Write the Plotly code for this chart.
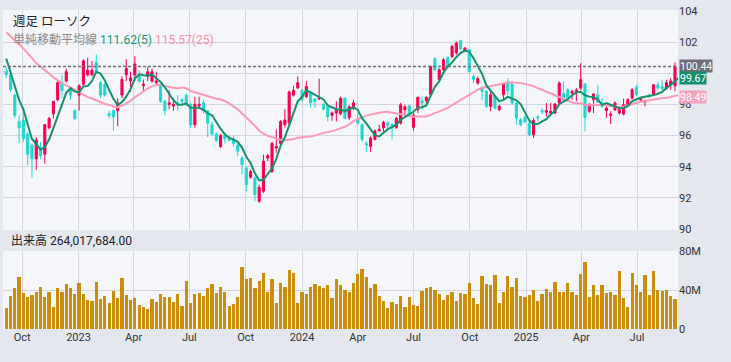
import pandas as pd
import plotly.graph_objects as go

# ---------------- data ----------------
start_date = "2022-09-05"
n_weeks = 158
dates = pd.date_range(start_date, periods=n_weeks, freq="7D")

opens = [100.16, 99.9, 98.6, 96.9, 97.0, 96.1, 95.4, 94.5, 95.2, 94.8,
         96.5, 97.4, 98.3, 99.4, 99.5, 98.9, 97.6, 98.6, 99.3, 99.9,
         99.9, 100.7, 99.4, 99.3, 97.4, 97.6, 97.6, 98.6, 99.9, 99.5,
         99.9, 99.9, 99.2, 99.8, 99.5, 99.4, 99.2, 98.2, 98.0, 97.9,
         98.1, 98.3, 98.6, 98.0, 96.7, 97.9, 98.1, 97.6, 96.7, 96.1,
         95.3, 96.0, 95.8, 95.8, 95.4, 94.56, 93.92, 93.32, 93.28, 91.79,
         92.43, 94.56, 93.7, 95.2, 95.5, 96.7, 96.8, 98.6, 99.05, 98.9,
         98.5, 98.7, 98.35, 98.35, 98.0, 97.8, 97.3, 97.45, 97.4, 98.4,
         97.15, 97.75, 97.1, 96.7, 95.5, 95.3, 95.75, 96.3, 96.5, 96.8,
         96.7, 96.5, 96.8, 97.65, 97.9, 96.53, 97.66, 98.24, 98.24, 98.62,
         100.93, 99.59, 100.23, 101.02, 101.08, 101.3, 102.09, 101.4, 101.51, 99.8,
         99.37, 99.09, 98.84, 97.88, 98.52, 97.66, 98.62, 99.44, 99.31, 98.09,
         97.02, 97.17, 96.8, 96.06, 97.21, 97.6, 97.51, 97.45, 97.45, 98.09,
         98.7, 98.94, 98.73, 98.84, 99.05, 99.31, 97.56, 98.3, 98.62, 98.09,
         97.6, 97.3, 97.66, 97.45, 97.38, 97.94, 98.41, 99.09, 98.3, 98.15,
         98.62, 98.62, 99.26, 99.14, 99.05, 99.26, 99.2, 100.38]
highs = [100.4, 100.1, 98.7, 97.3, 97.6, 96.2, 95.5, 95.9, 95.6, 96.7,
         97.2, 98.2, 99.5, 99.9, 100.3, 99.1, 97.7, 99.3, 100.9, 101.0,
         100.8, 101.2, 99.5, 99.4, 97.6, 97.7, 98.4, 99.8, 100.9, 100.1,
         101.1, 100.2, 99.6, 100.4, 100.3, 100.1, 99.3, 98.3, 98.9, 98.4,
         98.6, 98.4, 98.7, 98.1, 98.5, 98.5, 98.3, 97.6, 96.9, 96.2,
         96.1, 96.2, 96.0, 96.0, 95.5, 94.7, 94.03, 93.82, 93.39, 92.85,
         94.78, 94.82, 95.6, 96.4, 97.0, 97.7, 98.9, 99.2, 99.8, 99.0,
         99.5, 98.85, 98.4, 99.65, 98.1, 97.9, 97.55, 98.2, 98.5, 98.45,
         97.95, 98.3, 97.45, 96.8, 95.65, 95.95, 96.4, 96.7, 96.95, 96.95,
         96.8, 97.2, 98.1, 97.98, 98.0, 97.45, 98.52, 98.52, 98.52, 100.5,
         101.02, 100.33, 100.97, 101.08, 101.83, 102.04, 102.15, 101.68, 101.57, 99.91,
         99.8, 99.16, 98.94, 98.84, 98.62, 97.98, 99.37, 99.69, 99.37, 98.2,
         97.13, 97.3, 96.91, 97.13, 97.34, 97.77, 98.09, 98.09, 98.09, 99.48,
         99.48, 99.05, 98.94, 99.05, 100.65, 99.37, 98.09, 98.73, 99.26, 98.41,
         97.88, 97.56, 98.2, 97.77, 98.37, 98.41, 99.05, 99.26, 98.45, 98.3,
         98.67, 99.31, 99.48, 99.59, 99.59, 99.69, 100.7, 100.5]
lows = [99.7, 98.8, 97.1, 95.5, 95.6, 94.1, 93.3, 93.8, 94.5, 94.2,
        96.4, 97.1, 98.2, 98.4, 99.4, 98.3, 97.0, 97.6, 99.2, 99.8,
        99.8, 100.0, 98.4, 98.5, 97.1, 96.3, 96.6, 98.4, 99.5, 98.8,
        99.5, 99.4, 98.8, 99.5, 99.4, 99.3, 98.1, 97.3, 97.7, 97.6,
        97.6, 98.0, 97.9, 96.5, 96.5, 97.8, 97.4, 95.9, 96.0, 95.6,
        95.2, 95.5, 95.6, 95.3, 94.7, 93.5, 92.43, 93.24, 91.79, 91.68,
        92.32, 94.35, 93.6, 94.9, 95.4, 96.5, 96.7, 98.5, 99.0, 98.2,
        98.4, 97.8, 97.8, 98.3, 97.6, 96.9, 96.95, 96.9, 97.3, 97.05,
        97.0, 97.65, 96.7, 95.6, 94.95, 94.95, 95.7, 96.25, 96.25, 96.5,
        95.75, 96.45, 96.7, 97.35, 97.3, 96.32, 97.45, 97.66, 98.09, 98.52,
        100.12, 99.48, 100.12, 100.33, 100.97, 101.19, 101.5, 101.36, 100.01, 99.37,
        99.26, 98.3, 97.77, 97.56, 97.66, 97.56, 98.3, 98.6, 97.98, 96.7,
        96.59, 96.8, 95.95, 95.85, 96.91, 97.38, 97.23, 97.3, 97.38, 98.03,
        98.2, 98.3, 98.3, 98.2, 98.94, 96.27, 97.45, 97.45, 98.09, 97.77,
        97.13, 96.74, 97.56, 97.34, 97.3, 97.88, 98.3, 98.52, 98.15, 97.88,
        98.41, 98.58, 98.94, 98.94, 98.94, 98.94, 98.85, 100.35]
closes = [99.9, 98.95, 97.3, 96.5, 95.8, 94.8, 94.5, 95.7, 94.7, 96.7,
          97.1, 98.2, 99.4, 98.9, 100.1, 98.6, 97.1, 99.2, 100.8, 100.2,
          100.2, 100.1, 98.6, 98.6, 97.3, 97.2, 98.1, 99.6, 100.3, 99.7,
          100.6, 99.5, 99.3, 100.1, 100.1, 99.5, 98.2, 97.6, 98.1, 98.0,
          98.0, 98.2, 98.0, 96.7, 98.0, 98.0, 97.6, 96.8, 96.1, 95.7,
          96.0, 95.8, 95.7, 95.5, 95.0, 94.14, 92.85, 93.7, 92.21, 92.68,
          94.35, 94.71, 95.5, 95.3, 96.9, 97.0, 98.8, 98.9, 99.4, 98.3,
          99.15, 98.1, 98.2, 98.45, 97.7, 97.2, 97.45, 97.65, 98.4, 97.1,
          97.85, 98.1, 96.8, 95.75, 95.4, 95.85, 96.3, 96.4, 96.85, 96.65,
          96.5, 97.1, 97.98, 97.85, 97.4, 97.3, 98.45, 98.09, 98.45, 100.44,
          100.23, 100.23, 100.87, 100.44, 101.72, 101.94, 101.57, 101.62, 100.12, 99.59,
          99.65, 98.84, 97.88, 98.62, 97.77, 97.88, 99.31, 98.9, 98.09, 97.13,
          96.7, 96.87, 96.06, 96.96, 97.13, 97.51, 97.6, 97.56, 98.03, 99.37,
          98.3, 98.41, 98.84, 98.92, 99.59, 97.17, 97.98, 98.67, 98.15, 97.88,
          97.77, 97.38, 98.09, 97.66, 97.98, 98.3, 98.94, 98.62, 98.37, 98.24,
          98.5, 99.26, 99.05, 99.0, 99.4, 99.5, 100.45, 100.44]
# closes of the 24 weeks before the first candle (read back from the averages at the left edge)
prior_closes = [104.95, 104.3, 102.75, 103.05, 101.8, 102.75, 103.7, 99.95,
                101.95, 103.35, 104.2, 104.15, 103.4, 103.6, 101.85, 100.85,
                102.95, 105.05, 104.2, 102.45, 103.35, 101.6, 101.1, 98.8]

volume_m = [21.9, 34.2, 42.4, 53.4, 36.9, 33.2, 34.9, 38.0, 43.1, 32.8,
            38.0, 22.6, 42.1, 38.3, 46.2, 42.1, 35.9, 47.2, 35.9, 29.8,
            28.7, 48.2, 30.8, 33.9, 26.7, 39.0, 31.8, 52.3, 34.9, 29.8,
            31.8, 24.6, 22.6, 20.5, 30.8, 27.7, 35.9, 32.8, 32.8, 27.7,
            35.9, 23.6, 49.2, 26.7, 35.9, 36.9, 33.9, 42.1, 46.2, 36.9,
            43.1, 38.0, 23.6, 25.7, 32.8, 63.6, 51.3, 52.3, 42.1, 49.2,
            57.5, 38.0, 51.3, 26.7, 47.2, 43.1, 60.5, 57.5, 26.7, 38.0,
            35.9, 43.1, 46.2, 44.1, 42.1, 45.1, 31.8, 51.3, 45.1, 40.0,
            38.0, 47.2, 56.4, 61.6, 53.4, 42.1, 46.2, 33.9, 28.7, 21.5,
            27.7, 25.7, 33.9, 22.6, 32.8, 24.6, 23.6, 39.0, 42.1, 43.1,
            40.0, 35.9, 29.8, 34.9, 38.0, 28.7, 36.9, 35.9, 47.2, 31.8,
            25.7, 54.4, 46.2, 45.1, 55.4, 26.7, 38.0, 54.4, 43.1, 52.3,
            33.9, 32.8, 34.9, 40.0, 28.7, 35.9, 41.0, 38.0, 48.2, 38.0,
            38.0, 47.2, 38.0, 34.9, 56.4, 68.7, 32.8, 45.1, 34.9, 45.1,
            36.9, 38.0, 34.9, 59.5, 31.8, 22.6, 57.5, 45.1, 38.0, 55.4,
            34.9, 59.5, 40.0, 39.0, 40.0, 33.9, 30.8, 7.2]

price_ticks = [90, 92, 94, 96, 98, 100, 102, 104]
price_tick_text = ["90", "92", "94", "96", "98", "", "102", "104"]  # 100 sits under the value tags
volume_ticks_m = [0, 40, 80]
volume_tick_text = ["0", "40M", "80M"]
x_tick_dates = ["2022-10-01", "2023-01-01", "2023-04-01", "2023-07-01", "2023-10-01",
                "2024-01-01", "2024-04-01", "2024-07-01", "2024-10-01", "2025-01-01",
                "2025-04-01", "2025-07-01"]
x_tick_text = ["Oct", "2023", "Apr", "Jul", "Oct", "2024", "Apr", "Jul", "Oct", "2025", "Apr", "Jul"]

last_price = 100.44
sma5_label = 99.67
sma25_label = 98.49
header_main = "週足 ローソク"
header_sma = "単純移動平均線"
sma5_text = "111.62(5)"
sma25_text = "115.57(25)"
volume_header = "出来高 264,017,684.00"

# ---------------- styling ----------------
PAPER = "#e4e7ee"
PLOT = "#f5f6f9"
GRID = "#d4d5e1"
RED = "#f5004f"
CYAN = "#1fd8d0"
GREEN = "#17906e"
PINK = "#f99bb6"
GOLD = "#c98f0a"
TXT = "#333333"
FONT = "Roboto, 'Noto Sans CJK JP', sans-serif"

W, H = 731, 362
def px_x(p):
    return p / W
def px_y(p):
    return 1 - p / H

all_closes = pd.Series(prior_closes + closes)
sma5 = all_closes.rolling(5).mean().iloc[len(prior_closes):].tolist()
sma25 = all_closes.rolling(25).mean().iloc[len(prior_closes):].tolist()
volume = [v * 1e6 for v in volume_m]

fig = go.Figure()
fig.add_trace(go.Candlestick(
    x=dates, open=opens, high=highs, low=lows, close=closes,
    increasing=dict(line=dict(color=RED, width=1), fillcolor=RED),
    decreasing=dict(line=dict(color=CYAN, width=1), fillcolor=CYAN),
    whiskerwidth=0, xaxis="x", yaxis="y", showlegend=False, hoverinfo="skip"))
fig.add_trace(go.Scatter(x=dates, y=sma25, mode="lines", line=dict(color=PINK, width=2),
                         xaxis="x", yaxis="y", showlegend=False, hoverinfo="skip"))
fig.add_trace(go.Scatter(x=dates, y=sma5, mode="lines", line=dict(color=GREEN, width=2),
                         xaxis="x", yaxis="y", showlegend=False, hoverinfo="skip"))
fig.add_trace(go.Bar(x=dates, y=volume, marker=dict(color=GOLD, line=dict(width=0)),
                     width=5.3 * 86400000, xaxis="x2", yaxis="y2", showlegend=False,
                     hoverinfo="skip"))

x_range = ["2022-08-30 17:00", "2025-09-05 22:00"]
x_dom = [px_x(3), px_x(678)]
axis_common = dict(range=x_range, type="date", tickvals=x_tick_dates, showgrid=True,
                   gridcolor=GRID, gridwidth=1, zeroline=False, showline=False,
                   ticks="", fixedrange=True)

fig.update_layout(
    width=W, height=H,
    margin=dict(l=0, r=0, t=0, b=0),
    paper_bgcolor=PAPER, plot_bgcolor=PLOT,
    font=dict(family=FONT, size=11, color=TXT),
    bargap=0,
    xaxis=dict(domain=x_dom, anchor="y", showticklabels=False,
               rangeslider=dict(visible=False), **axis_common),
    xaxis2=dict(domain=x_dom, anchor="y2", ticktext=x_tick_text, showticklabels=True,
                tickfont=dict(size=11, color=TXT), **axis_common),
    yaxis=dict(domain=[px_y(230), px_y(10)], range=[89.936, 104.064], side="right",
               tickvals=price_ticks, ticktext=price_tick_text, showgrid=True, gridcolor=GRID,
               zeroline=False, showline=False, ticks="", tickfont=dict(size=11, color=TXT),
               automargin=False, fixedrange=True),
    yaxis2=dict(domain=[px_y(329), px_y(251)], range=[0, 80e6], side="right",
                tickvals=[v * 1e6 for v in volume_ticks_m], ticktext=volume_tick_text,
                showgrid=True, gridcolor=GRID, zeroline=False, showline=False, ticks="",
                tickfont=dict(size=11, color=TXT), automargin=False, fixedrange=True),
)

fig.add_shape(type="line", xref="paper", yref="y", x0=x_dom[0], x1=x_dom[1],
              y0=last_price, y1=last_price, line=dict(color="#6f6f78", width=1.5, dash="3px,2px"))

# right-side value labels
for val, bg in [(last_price, "#6e6e78"), (sma5_label, "#14906c"), (sma25_label, "#f7a1bb")]:
    fig.add_annotation(x=px_x(679), xref="paper", y=val, yref="y", xanchor="left",
                       yanchor="middle", text=f"{val:.2f}", showarrow=False,
                       bgcolor=bg, borderpad=0, height=12,
                       font=dict(size=10.5, color="white", family=FONT))

fig.add_annotation(x=px_x(11), y=px_y(22), xref="paper", yref="paper", xanchor="left",
                   yanchor="middle", showarrow=False, text=header_main,
                   font=dict(size=12.5, color="#222222", family=FONT))
fig.add_annotation(x=px_x(11), y=px_y(40), xref="paper", yref="paper", xanchor="left",
                   yanchor="middle", showarrow=False,
                   text=(f"<span style='color:#8a8a8a'>{header_sma}</span> "
                         f"<span style='color:#16987a'>{sma5_text}</span> "
                         f"<span style='color:#f58fb0'>{sma25_text}</span>"),
                   font=dict(size=12, family=FONT))
fig.add_annotation(x=px_x(9), y=px_y(241), xref="paper", yref="paper", xanchor="left",
                   yanchor="middle", showarrow=False, text=volume_header,
                   font=dict(size=12, color="#222222", family=FONT))

fig.write_html("out.html",
               config={"displayModeBar": False, "staticPlot": True},
               post_script="document.body.style.margin='0';"
                           "document.body.style.background='" + PAPER + "';")
